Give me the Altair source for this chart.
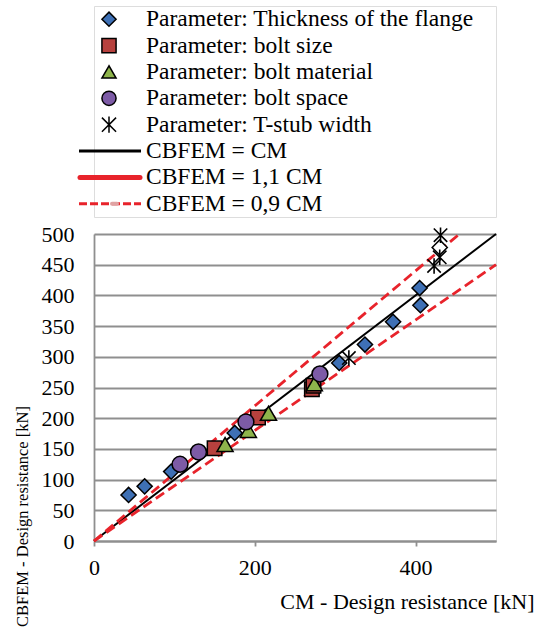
import altair as alt
import pandas as pd

# ---- data ----
flange_x = [43, 63, 96, 175, 305, 337, 372, 406, 405]
flange_y = [75, 89, 113, 176, 290, 320, 357, 384, 412]
flange_open_x = [430]
flange_open_y = [478]
bsize_x = [150, 204, 271, 273]
bsize_y = [151, 201, 247, 253]
bmat_x = [163, 192, 217, 274]
bmat_y = [157, 180, 208, 256]
bspace_x = [107, 130, 189, 281]
bspace_y = [125, 145, 194, 272]
tstub_x = [317, 423, 430, 431]
tstub_y = [298, 448, 462, 498]

cm_x = [0, 500]
cm_y = [0, 500]
up_x = [0, 454.5]
up_y = [0, 500]
lo_x = [0, 500]
lo_y = [0, 450]

x_ticks = [0, 200, 400]
y_ticks = [0, 50, 100, 150, 200, 250, 300, 350, 400, 450, 500]

legend_labels = [
    "Parameter: Thickness of the flange",
    "Parameter: bolt size",
    "Parameter: bolt material",
    "Parameter: bolt space",
    "Parameter: T-stub width",
    "CBFEM = CM",
    "CBFEM = 1,1 CM",
    "CBFEM = 0,9 CM",
]

BLUE = "#3E70B5"
RED_SQ = "#B7413E"
GREEN = "#8EB44B"
PURPLE = "#7D5BA6"
RED_LINE = "#E8232B"
GRID = "#8f8f8f"
STAR = "M-1,-1L1,1M1,-1L-1,1M0,-1.15L0,1.15"
FONT = "Liberation Serif, Times New Roman, serif"

W, H = 402, 307


def XE():
    return alt.X(
        "x:Q",
        scale=alt.Scale(domain=[0, 500], nice=False, zero=False),
        axis=alt.Axis(
            values=x_ticks, grid=False, title="CM - Design resistance [kN]",
            domainColor=GRID, domainWidth=1.8, tickColor=GRID, tickWidth=1.8,
            tickSize=5, labelPadding=11, labelFontSize=22, labelFont=FONT,
            labelColor="black", labelFlush=False, labelOverlap=False,
            titleFont=FONT, titleFontSize=22, titleFontWeight="normal",
            titleColor="black", titleX=440, titleY=60, titleAlign="right",
            titleBaseline="middle",
        ),
    )


def YE():
    return alt.Y(
        "y:Q",
        scale=alt.Scale(domain=[0, 500], nice=False, zero=False),
        axis=alt.Axis(
            values=y_ticks, grid=True, gridColor=GRID, gridWidth=1.8,
            domainColor=GRID, domainWidth=1.8, ticks=False, labelPadding=20,
            labelFontSize=22, labelFont=FONT, labelColor="black",
            labelFlush=False, labelOverlap=False,
            title="CBFEM - Design resistance [kN]", titleFont=FONT,
            titleFontSize=16.5, titleFontWeight="normal", titleColor="black",
            titleX=-72, titleY=282, titleAngle=270, titleAlign="center",
            titleBaseline="middle",
        ),
    )


def df(xs, ys):
    return pd.DataFrame({"x": xs, "y": ys})


line_cm = alt.Chart(df(cm_x, cm_y)).mark_line(color="black", strokeWidth=2).encode(x=XE(), y=YE())
line_up = alt.Chart(df(up_x, up_y)).mark_line(color=RED_LINE, strokeWidth=2.8, strokeDash=[10, 5]).encode(x=XE(), y=YE())
line_lo = alt.Chart(df(lo_x, lo_y)).mark_line(color=RED_LINE, strokeWidth=2.8, strokeDash=[10, 5]).encode(x=XE(), y=YE())


def pts(xs, ys, shape, fill, size, filled=True):
    if filled:
        m = alt.Chart(df(xs, ys)).mark_point(shape=shape, filled=True, fill=fill, stroke="black",
                                             strokeWidth=1.5, size=size, opacity=1)
    else:
        m = alt.Chart(df(xs, ys)).mark_point(shape=shape, filled=False, stroke="black",
                                             strokeWidth=1.6, size=size, opacity=1)
    return m.encode(x=XE(), y=YE())


p_flange = pts(flange_x, flange_y, "diamond", BLUE, 230)
p_open = pts(flange_open_x, flange_open_y, "diamond", "white", 230)
p_bsize = pts(bsize_x, bsize_y, "square", RED_SQ, 210)
p_bmat = pts(bmat_x, bmat_y, "triangle-up", GREEN, 260)
p_bspace = pts(bspace_x, bspace_y, "circle", PURPLE, 250)
p_tstub = pts(tstub_x, tstub_y, STAR, None, 180, filled=False)

main = alt.layer(
    line_cm, line_up, line_lo,
    p_flange, p_open, p_bsize, p_tstub, p_bmat, p_bspace,
).properties(width=W, height=H)

# ---- custom legend panel ----
LH = 211
leg_y = alt.Y("label:N", scale=alt.Scale(type="point", padding=0.5, domain=legend_labels), axis=None)

sym_df = pd.DataFrame({
    "label": legend_labels[:5],
    "shape": ["diamond", "square", "triangle-up", "circle", STAR],
    "fill": [BLUE, RED_SQ, GREEN, PURPLE, "transparent"],
})
leg_sym = alt.Chart(sym_df).mark_point(filled=True, stroke="black", strokeWidth=1.5,
                                       size=200, opacity=1).encode(
    x=alt.value(15), y=leg_y,
    shape=alt.Shape("shape:N", scale=None),
    fill=alt.Fill("fill:N", scale=None),
)

leg_cm = alt.Chart(pd.DataFrame({"label": [legend_labels[5]]})).mark_rule(
    color="black", strokeWidth=3).encode(x=alt.value(-15), x2=alt.value(47), y=leg_y)
leg_up = alt.Chart(pd.DataFrame({"label": [legend_labels[6]]})).mark_rule(
    color=RED_LINE, strokeWidth=5, strokeCap="round").encode(x=alt.value(-14), x2=alt.value(46), y=leg_y)
leg_lo = alt.Chart(pd.DataFrame({"label": [legend_labels[7]]})).mark_rule(
    color=RED_LINE, strokeWidth=3, strokeDash=[8, 3]).encode(x=alt.value(-15), x2=alt.value(47), y=leg_y)
leg_lo_mid = alt.Chart(pd.DataFrame({"label": [legend_labels[7]]})).mark_rule(
    color="#E0A3A3", strokeWidth=4, strokeCap="round").encode(x=alt.value(18), x2=alt.value(23), y=leg_y)

leg_text = alt.Chart(pd.DataFrame({"label": legend_labels})).mark_text(
    align="left", baseline="middle", font=FONT, fontSize=23.5, color="black").encode(
    x=alt.value(52), y=leg_y, text="label:N")

legend = alt.layer(leg_cm, leg_up, leg_lo, leg_lo_mid, leg_sym, leg_text).properties(width=W, height=LH)

chart = alt.vconcat(legend, main, spacing=17, bounds="flush").properties(
    padding={"left": 13, "top": 5, "right": 0, "bottom": 0}
).configure_view(stroke=None).configure(font=FONT).configure_axis(
    labelFont=FONT, titleFont=FONT, labelColor="black", titleColor="black"
).configure_axisX(labelFont=FONT).configure_axisY(labelFont=FONT).configure_text(font=FONT)

chart.save("out.html", embed_options={"renderer": "svg", "actions": False})
